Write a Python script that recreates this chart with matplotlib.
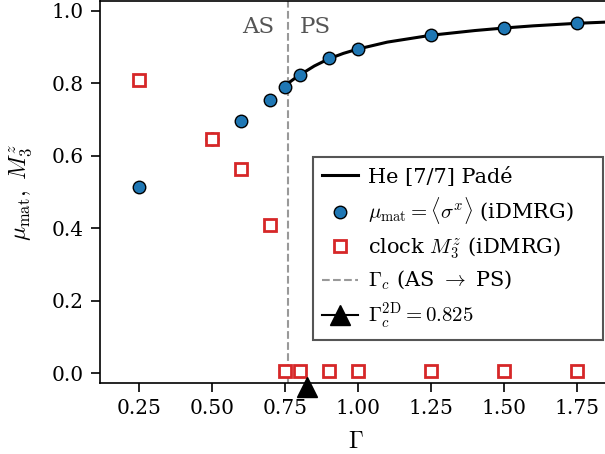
import matplotlib
matplotlib.use("Agg")
import matplotlib.pyplot as plt

plt.rcParams["font.family"] = "DejaVu Serif"
plt.rcParams["mathtext.fontset"] = "cm"

# iDMRG order parameter mu_mat = <sigma^x>
gamma_mu = [0.25, 0.50, 0.60, 0.70, 0.75, 0.80, 0.90, 1.00, 1.25, 1.50, 1.75]
mu_mat = [0.514, 0.646, 0.696, 0.754, 0.790, 0.823, 0.869, 0.895, 0.933, 0.953, 0.966]

# clock order parameter M_3^z
gamma_clock = [0.25, 0.50, 0.60, 0.70, 0.75, 0.80, 0.90, 1.00, 1.25, 1.50, 1.75]
m3z = [0.809, 0.647, 0.564, 0.409, 0.006, 0.006, 0.006, 0.006, 0.006, 0.006, 0.006]

# He [7/7] Pade curve
gamma_pade = [0.755, 0.78, 0.80, 0.85, 0.90, 0.95, 1.00, 1.10, 1.25, 1.40, 1.50, 1.60, 1.75, 1.90]
pade = [0.797, 0.812, 0.823, 0.848, 0.868, 0.883, 0.895, 0.914, 0.933, 0.946, 0.953, 0.959, 0.966, 0.971]

gamma_c = 0.76
gamma_c_2d = 0.825

fig = plt.figure(figsize=(6.05, 4.54), dpi=100)
ax = fig.add_axes([100 / 605, 71 / 454, 511 / 605, 382 / 454])

ax.plot(gamma_pade, pade, color="black", lw=2.2, label="He [7/7] Padé", zorder=3)
ax.plot(gamma_mu, mu_mat, "o", color="#1f77b4", mec="black", mew=1.0, ms=9,
        label=r"$\mu_{\rm mat} = \langle\sigma^x\rangle$ (iDMRG)", zorder=4)
ax.plot(gamma_clock, m3z, "s", mfc="white", mec="#d62728", mew=2.0, ms=8.5,
        label=r"clock $M_3^z$ (iDMRG)", zorder=5)
ax.axvline(gamma_c, color="#999999", ls="--", lw=1.5,
           label=r"$\Gamma_c$ (AS $\to$ PS)", zorder=2)
ax.plot([gamma_c_2d], [-0.0387], marker="^", color="black", ms=14, clip_on=False,
        label=r"$\Gamma_c^{\rm 2D} = 0.825$", zorder=6)

ax.text(gamma_c - 0.047, 0.956, "AS", ha="right", va="center", fontsize=16.5, color="#555555")
ax.text(gamma_c + 0.041, 0.956, "PS", ha="left", va="center", fontsize=16.5, color="#555555")

ax.set_xlim(0.1164, 1.866)
ax.set_ylim(-0.0276, 1.0276)
ax.set_xticks([0.25, 0.50, 0.75, 1.00, 1.25, 1.50, 1.75])
ax.set_yticks([0.0, 0.2, 0.4, 0.6, 0.8, 1.0])
ax.tick_params(labelsize=14.5, length=6.5, width=1.2, pad=5)
for s in ax.spines.values():
    s.set_linewidth(1.2)
ax.set_xlabel(r"$\Gamma$", fontsize=17, labelpad=9)
ax.set_ylabel(r"$\mu_{\rm mat},\ M_3^z$", fontsize=17, labelpad=13)

leg = ax.legend(loc="lower left", bbox_to_anchor=(0.4168, 0.1126, 0.5675, 0.3), mode="expand",
                borderaxespad=0, fontsize=15, fancybox=False, edgecolor="#555555",
                framealpha=1, handlelength=1.7, handletextpad=0.5, labelspacing=0.42,
                borderpad=0.45)
leg.get_frame().set_linewidth(1.5)

fig.savefig("out.png", dpi=100)
